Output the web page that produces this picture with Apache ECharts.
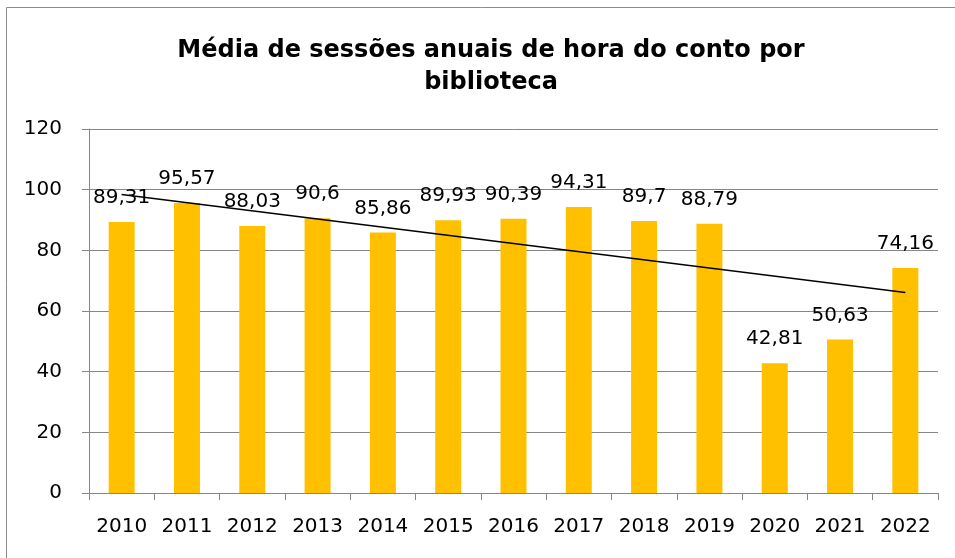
<!DOCTYPE html>
<html>
<head>
<meta charset="utf-8">
<script src="https://cdn.jsdelivr.net/npm/echarts@6/dist/echarts.min.js"></script>
<style>
html, body { margin: 0; padding: 0; background: #ffffff; }
#main { width: 955px; height: 558px; }
</style>
</head>
<body>
<div id="main"></div>
<script>
// dados
var anos = ['2010', '2011', '2012', '2013', '2014', '2015', '2016', '2017', '2018', '2019', '2020', '2021', '2022'];
var sessoes = [89.31, 95.57, 88.03, 90.6, 85.86, 89.93, 90.39, 94.31, 89.7, 88.79, 42.81, 50.63, 74.16];
// linha de tendência: extremos (2010 e 2022)
var tendencia = [98.4, 66.1];
var yTicks = [0, 20, 40, 60, 80, 100, 120];

var fonte = 'DejaVu Sans';

var chart = echarts.init(document.getElementById('main'));

var option = {
	backgroundColor: '#ffffff',
	animation: false,
	title: {
		text: 'Média de sessões anuais de hora do conto por\nbiblioteca',
		left: 486,
		textAlign: 'center',
		top: 30,
		textStyle: {
			fontFamily: fonte,
			fontWeight: 'bold',
			fontSize: 24,
			lineHeight: 32,
			color: '#000000'
		}
	},
	graphic: [{
		type: 'rect',
		shape: { x: 6.5, y: 7.5, width: 1000, height: 1000 },
		style: { fill: 'none', stroke: '#8c8c8c', lineWidth: 1 },
		silent: true
	}],
	grid: {
		left: 89,
		right: 17,
		top: 129,
		bottom: 65
	},
	xAxis: {
		type: 'category',
		data: anos,
		axisLine: { lineStyle: { color: '#868686', width: 1 } },
		axisTick: { show: true, length: 7, interval: 0, alignWithLabel: false, lineStyle: { color: '#868686' } },
		axisLabel: { interval: 0, fontFamily: fonte, fontSize: 20, color: '#000000', margin: 24 }
	},
	yAxis: {
		type: 'value',
		min: yTicks[0],
		max: yTicks[yTicks.length - 1],
		interval: 20,
		axisLine: { show: true, lineStyle: { color: '#868686', width: 1 } },
		axisTick: { show: true, length: 7, lineStyle: { color: '#868686' } },
		splitLine: { lineStyle: { color: '#868686', width: 1 } },
		axisLabel: { fontFamily: fonte, fontSize: 20, color: '#000000', margin: 27 }
	},
	series: [{
		type: 'bar',
		data: sessoes,
		barWidth: 26,
		itemStyle: { color: '#FFC000' },
		label: {
			show: true,
			position: 'top',
			distance: 14,
			fontFamily: fonte,
			fontSize: 20,
			color: '#000000',
			formatter: function (p) {
				return String(p.value).replace('.', ',');
			}
		}
	}, {
		type: 'line',
		data: [[0, tendencia[0]], [anos.length - 1, tendencia[1]]],
		symbol: 'none',
		lineStyle: { color: '#000000', width: 1.5 },
		z: 5
	}]
};

chart.setOption(option);
</script>
</body>
</html>
